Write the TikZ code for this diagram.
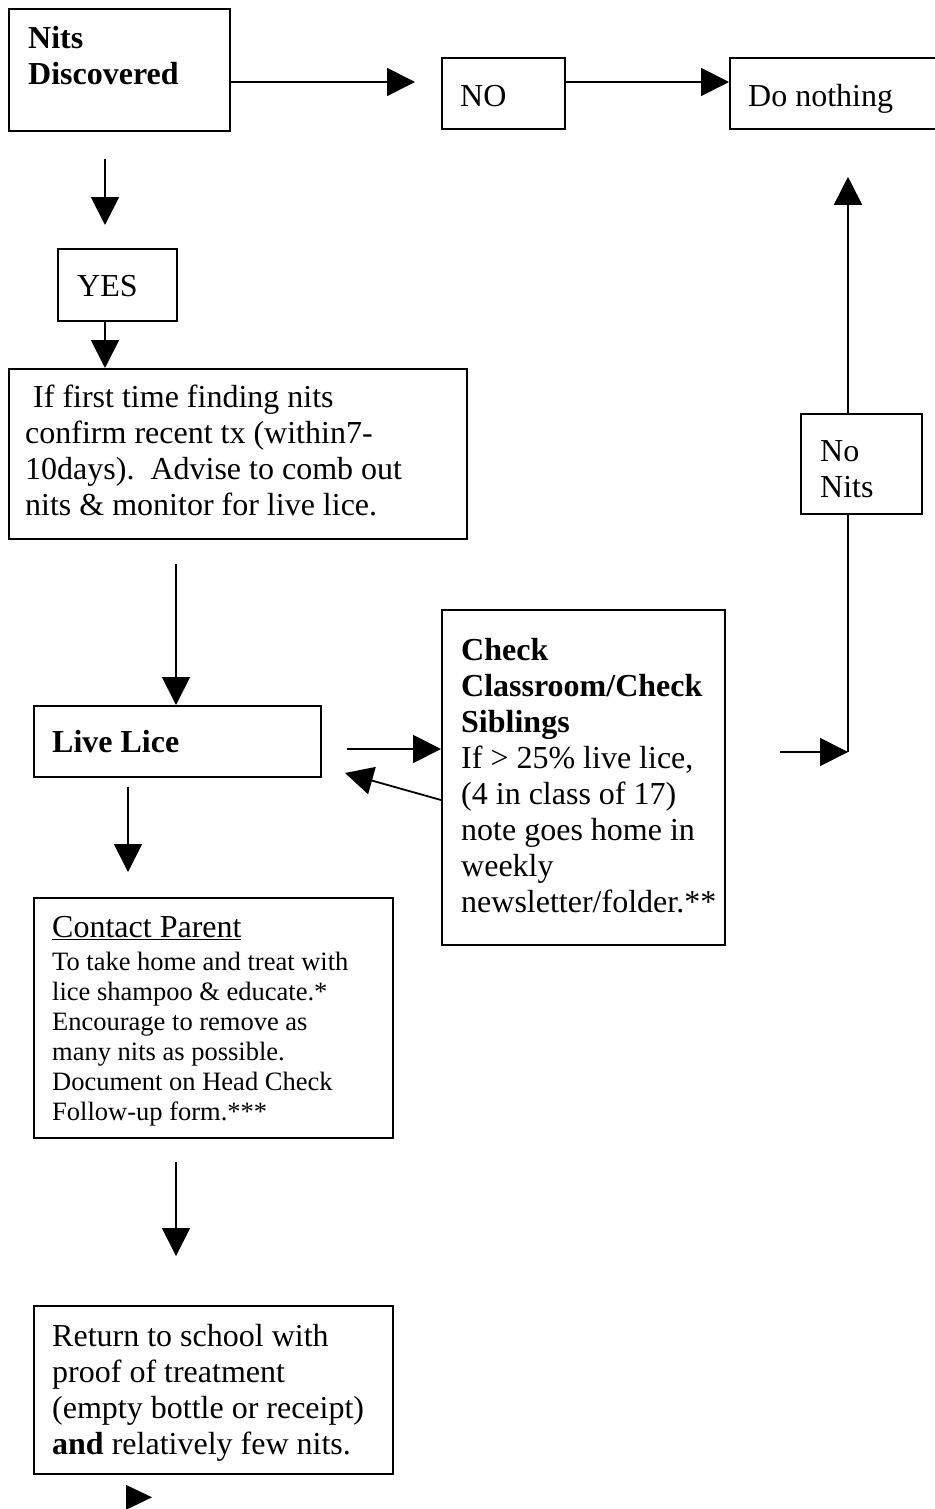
\documentclass[tikz,border=0pt]{standalone}
\usepackage{fontspec}
\setmainfont{Liberation Serif}
\usetikzlibrary{arrows.meta}
\tikzset{
  bx/.style={draw, line width=1.8pt, inner sep=0pt, anchor=north west},
  txt/.style={inner sep=0pt, anchor=north west, align=left, font=\fontsize{32}{36}\selectfont},
  sml/.style={inner sep=0pt, anchor=north west, align=left, font=\fontsize{26.5}{30}\selectfont},
  arr/.style={line width=1.8pt, -{Triangle[width=28pt,length=28pt]}},
  ln/.style={line width=1.8pt},
}
\begin{document}
\begin{tikzpicture}[x=1pt,y=-1pt]
\useasboundingbox (0,0) rectangle (934,1509);
% boxes
\node[bx, minimum width=221pt, minimum height=122pt] (nits) at (8,8) {};
\node[bx, minimum width=123pt, minimum height=71pt] (no) at (441,57) {};
\node[bx, minimum width=240pt, minimum height=71pt] (nothing) at (729,57) {};
\node[bx, minimum width=119pt, minimum height=72pt] (yes) at (57,248) {};
\node[bx, minimum width=458pt, minimum height=170pt] (first) at (8,368) {};
\node[bx, minimum width=287pt, minimum height=71pt] (live) at (33,705) {};
\node[bx, minimum width=283pt, minimum height=335pt] (check) at (441,609) {};
\node[bx, minimum width=121pt, minimum height=100pt] (nonits) at (800,413) {};
\node[bx, minimum width=359pt, minimum height=240pt] (contact) at (33,897) {};
\node[bx, minimum width=359pt, minimum height=168pt] (return) at (33,1305) {};
% texts
\node[txt] (tnits) at (28,22.8) {\strut\textbf{Nits}\\\textbf{Discovered}};
\node[txt] (tno) at (460,80.8) {\strut NO};
\node[txt] (tnothing) at (748,80.8) {\strut Do nothing};
\node[txt] (tyes) at (77,270.8) {\strut YES};
\node[txt] (tfirst) at (25,381.8) {\strut\ If first time finding nits\\confirm recent tx (within7-\\10days).\ \ Advise to comb out\\nits \& monitor for live lice.};
\node[txt] (tlive) at (52,726.8) {\strut\textbf{Live Lice}};
\node[txt] (tcheck) at (461,634.8) {\strut\textbf{Check}\\\textbf{Classroom/Check}\\\textbf{Siblings}\\If > 25\% live lice,\\(4 in class of 17)\\note goes home in\\weekly\\newsletter/folder.**};
\node[txt] (tnonits) at (820,435.8) {\strut No\\Nits};
\node[txt] (tcontact) at (52,911.8) {\strut\underline{Contact Parent}};
\node[sml] (tcbody) at (52,949) {\strut To take home and treat with\\lice shampoo \& educate.*\\Encourage to remove as\\many nits as possible.\\Document on Head Check\\Follow-up form.***};
\node[txt] (treturn) at (52,1320.8) {\strut Return to school with\\proof of treatment\\(empty bottle or receipt)\\\textbf{and} relatively few nits.};
% helper coordinates
\coordinate (rowA) at (0,82);
\coordinate (rowB) at (0,749);
\coordinate (rowC) at (0,752);
\coordinate (colA) at (105,0);
\coordinate (colB) at (176,0);
\coordinate (colC) at (128,0);
\coordinate (colD) at (848,0);
\coordinate (backS) at (441,800);
\coordinate (backE) at (345,773);
% connectors
\draw[arr] (nits.east |- rowA) -- ([xshift=-26pt]no.west |- rowA);
\draw[arr] (no.east |- rowA) -- (nothing.west |- rowA);
\draw[arr] ([yshift=-27pt]nits.south -| colA) -- ([yshift=23pt]yes.north -| colA);
\draw[arr] (yes.south -| colA) -- (first.north -| colA);
\draw[arr] ([yshift=-24pt]first.south -| colB) -- (live.north -| colB);
\draw[arr] ([xshift=25pt]live.east |- rowB) -- (check.west |- rowB);
\draw[arr] (backS) -- (backE);
\draw[arr] ([xshift=54pt]check.east |- rowC) -- (colD |- rowC);
\draw[ln] (colD |- rowC) -- (nonits.south -| colD);
\draw[arr] (nonits.north -| colD) -- ([yshift=-47pt]nothing.south -| colD);
\draw[arr] ([yshift=-9pt]live.south -| colC) -- ([yshift=25pt]contact.north -| colC);
\draw[arr] ([yshift=-23pt]contact.south -| colB) -- ([yshift=49pt]return.north -| colB);
\fill ([xshift=93pt,yshift=-10pt]return.south west) coordinate (tri) -- ++(26,12.5) -- ++(-26,12.5) -- cycle;
\end{tikzpicture}
\end{document}
